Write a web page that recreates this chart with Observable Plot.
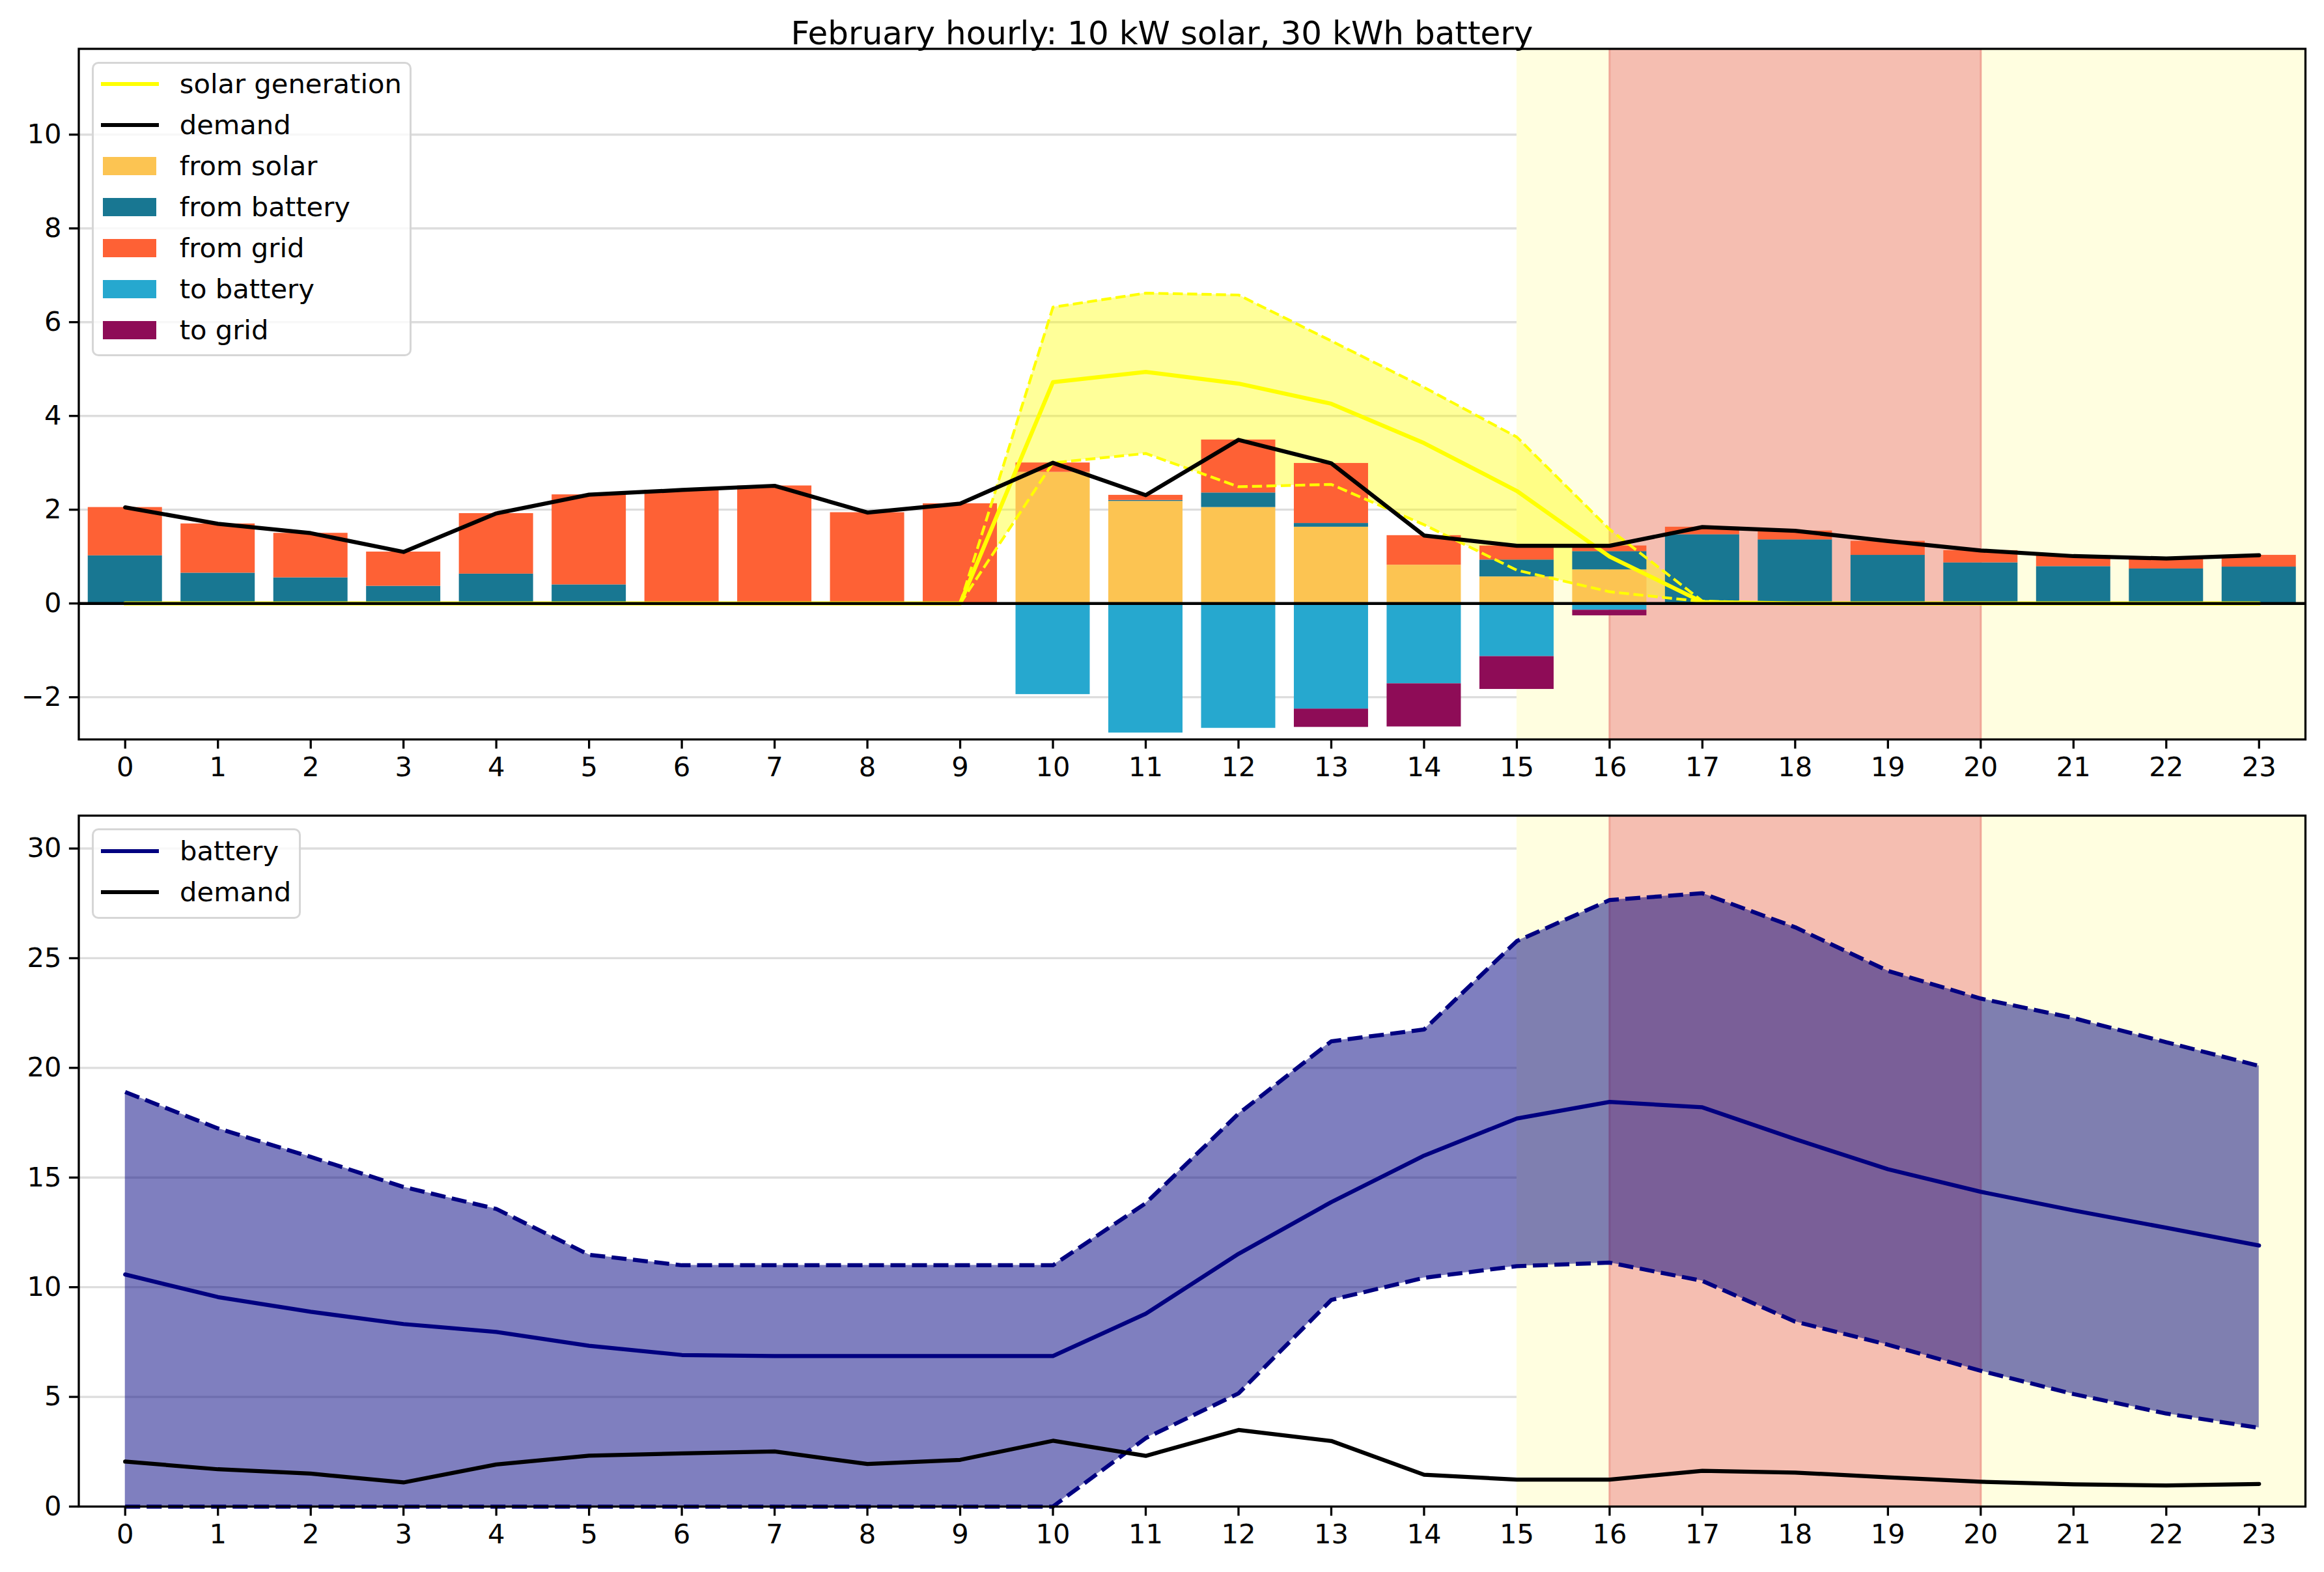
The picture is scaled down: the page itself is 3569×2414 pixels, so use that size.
<!DOCTYPE html>
<html><head><meta charset="utf-8">
<script src="https://cdn.jsdelivr.net/npm/d3@7"></script>
<script src="https://cdn.jsdelivr.net/npm/@observablehq/plot@0.6"></script>
<style>
body{margin:0;background:#fff;}
#fig{position:relative;width:3569px;height:2414px;background:#fff;font-family:"DejaVu Sans",sans-serif;overflow:hidden;}
#title{position:absolute;left:0;width:3569px;top:26px;text-align:center;font-size:50px;line-height:1;color:#000;z-index:5;white-space:nowrap;}
.panel{position:absolute;left:0;}
.legend{position:absolute;background:rgba(255,255,255,0.8);border:3.3px solid rgba(204,204,204,0.8);border-radius:10px;box-sizing:border-box;z-index:4;}
.row{position:absolute;left:0;height:63px;width:100%;font-size:41.67px;line-height:1;white-space:nowrap;}
.row .lab{position:absolute;top:50%;transform:translateY(-50%);}
.row .hl{position:absolute;top:50%;}
</style>
</head><body>
<div id="fig">
  <div id="title">February hourly: 10 kW solar, 30 kWh battery</div>
  <div id="top" class="panel" style="top:0px"></div>
  <div id="bottom" class="panel" style="top:1230px"></div>
</div>
<script>
// ---------------- data ----------------
const hours = [0,1,2,3,4,5,6,7,8,9,10,11,12,13,14,15,16,17,18,19,20,21,22,23];
const hourLabels = ["0","1","2","3","4","5","6","7","8","9","10","11","12","13","14","15","16","17","18","19","20","21","22","23"];

const demand = [2.05,1.70,1.50,1.10,1.92,2.32,2.42,2.51,1.94,2.13,3.00,2.31,3.49,2.99,1.45,1.23,1.23,1.63,1.55,1.33,1.13,1.01,0.96,1.03];

const solarMean  = [0,0,0,0,0,0,0,0,0,0,4.72,4.94,4.69,4.26,3.42,2.40,1.00,0.03,0,0,0,0,0,0];
const solarUpper = [0,0,0,0,0,0,0,0,0,0,6.32,6.62,6.58,5.60,4.61,3.55,1.58,0.05,0,0,0,0,0,0];
const solarLower = [0,0,0,0,0,0,0,0,0,0,3.00,3.20,2.49,2.54,1.68,0.71,0.25,0.04,0,0,0,0,0,0];

const fromSolar   = [0,0,0,0,0,0,0,0,0,0,2.80,2.18,2.05,1.63,0.82,0.57,0.72,0,0,0,0,0,0,0];
const fromBattery = [1.02,0.65,0.55,0.37,0.63,0.40,0,0,0,0,0,0.02,0.31,0.08,0,0.36,0.39,1.47,1.36,1.03,0.87,0.79,0.74,0.78];
const fromGrid    = [1.03,1.05,0.95,0.73,1.29,1.92,2.42,2.51,1.94,2.13,0.20,0.11,1.13,1.28,0.63,0.30,0.12,0.16,0.19,0.30,0.26,0.23,0.22,0.25];
const toBattery   = [0,0,0,0,0,0,0,0,0,0,1.94,2.76,2.66,2.25,1.71,1.13,0.14,0,0,0,0,0,0,0];
const toGrid      = [0,0,0,0,0,0,0,0,0,0,0,0,0,0.39,0.92,0.70,0.12,0,0,0,0,0,0,0];

const batteryMean  = [10.58,9.55,8.88,8.32,7.96,7.33,6.91,6.86,6.86,6.86,6.86,8.79,11.52,13.88,16.00,17.69,18.45,18.20,16.75,15.38,14.35,13.50,12.71,11.90];
const batteryUpper = [18.90,17.24,15.94,14.57,13.57,11.48,11.00,11.00,11.00,11.00,11.00,13.83,17.91,21.21,21.75,25.78,27.65,27.96,26.41,24.42,23.16,22.27,21.17,20.09];
const batteryLower = [0,0,0,0,0,0,0,0,0,0,0,3.12,5.16,9.42,10.43,10.96,11.12,10.29,8.43,7.38,6.19,5.13,4.24,3.59];

const topYTicks = [-2,0,2,4,6,8,10];
const bottomYTicks = [0,5,10,15,20,25,30];

// shaded periods
const shadeStart = [15, 16];
const shadeEnd   = [24, 20];
const shadeKind  = ["shoulder", "peak"];

const flowKeys   = ["from solar","from battery","from grid","to battery","to grid"];
const flowColors = ["#FCC452","#187792","#FE6135","#26A8CF","#8E0C57"];

// ---------------- helpers ----------------
const FS = 41.67;
const fmt = d => (d < 0 ? "\u2212" + Math.abs(d) : String(d));
const W = 3569;
const ML = 120.5, MR = 29;

function shadeMarks() {
  const rows = shadeStart.map((s, i) => ({x1: s, x2: shadeEnd[i], k: shadeKind[i]}));
  return [
    Plot.rect(rows.filter(d => d.k === "shoulder"), {x1: "x1", x2: "x2", fill: "#FFFEE0", clip: true}),
    Plot.rect(rows.filter(d => d.k === "peak"), {x1: "x1", x2: "x2", fill: "#F5BEB1", clip: true}),
    Plot.ruleX(rows.filter(d => d.k === "peak"), {x: "x1", stroke: "#EFA597", strokeWidth: 3}),
    Plot.ruleX(rows.filter(d => d.k === "peak"), {x: "x2", stroke: "#EFA597", strokeWidth: 3})
  ];
}

function axes(yticks) {
  return [
    Plot.axisX({ticks: hours, tickFormat: (d) => hourLabels[hours.indexOf(d)], tickSize: 14.6, tickPadding: 12, fontSize: FS, strokeWidth: 3.3, stroke: "black", fill: "black", label: null}),
    Plot.axisY({ticks: yticks, tickFormat: fmt, tickSize: 14.6, tickPadding: 12, fontSize: FS, strokeWidth: 3.3, stroke: "black", fill: "black", label: null})
  ];
}

// ---------------- top panel ----------------
const barRows = [];
hours.forEach((h, i) => {
  let base = 0;
  [["from solar", fromSolar], ["from battery", fromBattery], ["from grid", fromGrid]].forEach(([k, arr]) => {
    const v = arr[i];
    if (v > 0) { barRows.push({h, k, y1: base, y2: base + v}); base += v; }
  });
  base = 0;
  [["to battery", toBattery], ["to grid", toGrid]].forEach(([k, arr]) => {
    const v = arr[i];
    if (v > 0) { barRows.push({h, k, y1: base, y2: base - v}); base -= v; }
  });
});

const topPlot = Plot.plot({
  width: W, height: 1230,
  marginLeft: ML, marginRight: MR, marginTop: 74.5, marginBottom: 95,
  style: {fontFamily: "DejaVu Sans", fontSize: FS + "px", background: "transparent", overflow: "visible", maxWidth: "none"},
  x: {type: "linear", domain: [-0.5, 23.5]},
  y: {type: "linear", domain: [-2.9, 11.83]},
  color: {domain: flowKeys, range: flowColors},
  marks: [
    Plot.gridY(topYTicks, {stroke: "#DDDDDD", strokeOpacity: 1, strokeWidth: 3.3}),
    ...shadeMarks(),
    Plot.areaY(hours, {x: hours, y1: solarLower, y2: solarUpper, fill: "yellow", fillOpacity: 0.4, curve: "linear"}),
    Plot.rect(barRows, {x1: d => d.h - 0.4, x2: d => d.h + 0.4, y1: "y1", y2: "y2", fill: "k"}),
    Plot.line(hours, {x: hours, y: solarUpper, stroke: "yellow", strokeWidth: 4.2, strokeDasharray: "15.4,6.7", strokeLinecap: "butt"}),
    Plot.line(hours, {x: hours, y: solarLower, stroke: "yellow", strokeWidth: 4.2, strokeDasharray: "15.4,6.7", strokeLinecap: "butt"}),
    Plot.line(hours, {x: hours, y: solarMean, stroke: "yellow", strokeWidth: 6.25}),
    Plot.line(hours, {x: hours, y: demand, stroke: "black", strokeWidth: 6.25}),
    Plot.ruleY([0], {stroke: "black", strokeWidth: 4.5}),
    Plot.frame({stroke: "black", strokeWidth: 3.3}),
    ...axes(topYTicks)
  ]
});
document.getElementById("top").appendChild(topPlot);

// ---------------- bottom panel ----------------
const bottomPlot = Plot.plot({
  width: W, height: 1184,
  marginLeft: ML, marginRight: MR, marginTop: 22, marginBottom: 101,
  style: {fontFamily: "DejaVu Sans", fontSize: FS + "px", background: "transparent", overflow: "visible", maxWidth: "none"},
  x: {type: "linear", domain: [-0.5, 23.5]},
  y: {type: "linear", domain: [0, 31.5]},
  marks: [
    Plot.gridY(bottomYTicks, {stroke: "#DDDDDD", strokeOpacity: 1, strokeWidth: 3.3}),
    ...shadeMarks(),
    Plot.areaY(hours, {x: hours, y1: batteryLower, y2: batteryUpper, fill: "navy", fillOpacity: 0.5}),
    Plot.line(hours, {x: hours, y: batteryUpper, stroke: "navy", strokeWidth: 6.25, strokeDasharray: "23,10", strokeLinecap: "butt"}),
    Plot.line(hours, {x: hours, y: batteryLower, stroke: "navy", strokeWidth: 6.25, strokeDasharray: "23,10", strokeLinecap: "butt"}),
    Plot.line(hours, {x: hours, y: batteryMean, stroke: "navy", strokeWidth: 6.25}),
    Plot.line(hours, {x: hours, y: demand, stroke: "black", strokeWidth: 6.25}),
    Plot.frame({stroke: "black", strokeWidth: 3.3}),
    ...axes(bottomYTicks)
  ]
});
document.getElementById("bottom").appendChild(bottomPlot);

// ---------------- legends ----------------
function makeLegend(left, top, width, height, firstCenter, step, items) {
  const box = document.createElement("div");
  box.className = "legend";
  Object.assign(box.style, {left: left + "px", top: top + "px", width: width + "px", height: height + "px"});
  const b = 3.3;
  items.forEach((it, i) => {
    const row = document.createElement("div");
    row.className = "row";
    row.style.top = (firstCenter + step * i - 31.5 - b) + "px";
    const h = document.createElement("div");
    h.className = "hl";
    if (it.type === "line") {
      Object.assign(h.style, {left: (14.4 - b) + "px", width: "89px", height: "6.25px", marginTop: "-3.1px", background: it.color});
    } else {
      Object.assign(h.style, {left: (17.4 - b) + "px", width: "82.6px", height: "28.7px", marginTop: "-14.35px", background: it.color});
    }
    const lab = document.createElement("div");
    lab.className = "lab";
    lab.style.left = (135.4 - b) + "px";
    lab.textContent = it.label;
    row.appendChild(h); row.appendChild(lab);
    box.appendChild(row);
  });
  document.getElementById("fig").appendChild(box);
}

makeLegend(140.6, 95, 491.4, 452, 34.3, 63, [
  {type: "line", color: "yellow", label: "solar generation"},
  {type: "line", color: "black", label: "demand"},
  ...flowKeys.map((k, i) => ({type: "patch", color: flowColors[i], label: k}))
]);
makeLegend(141, 1272, 320.5, 139, 35, 63.5, [
  {type: "line", color: "navy", label: "battery"},
  {type: "line", color: "black", label: "demand"}
]);
</script>
</body></html>
